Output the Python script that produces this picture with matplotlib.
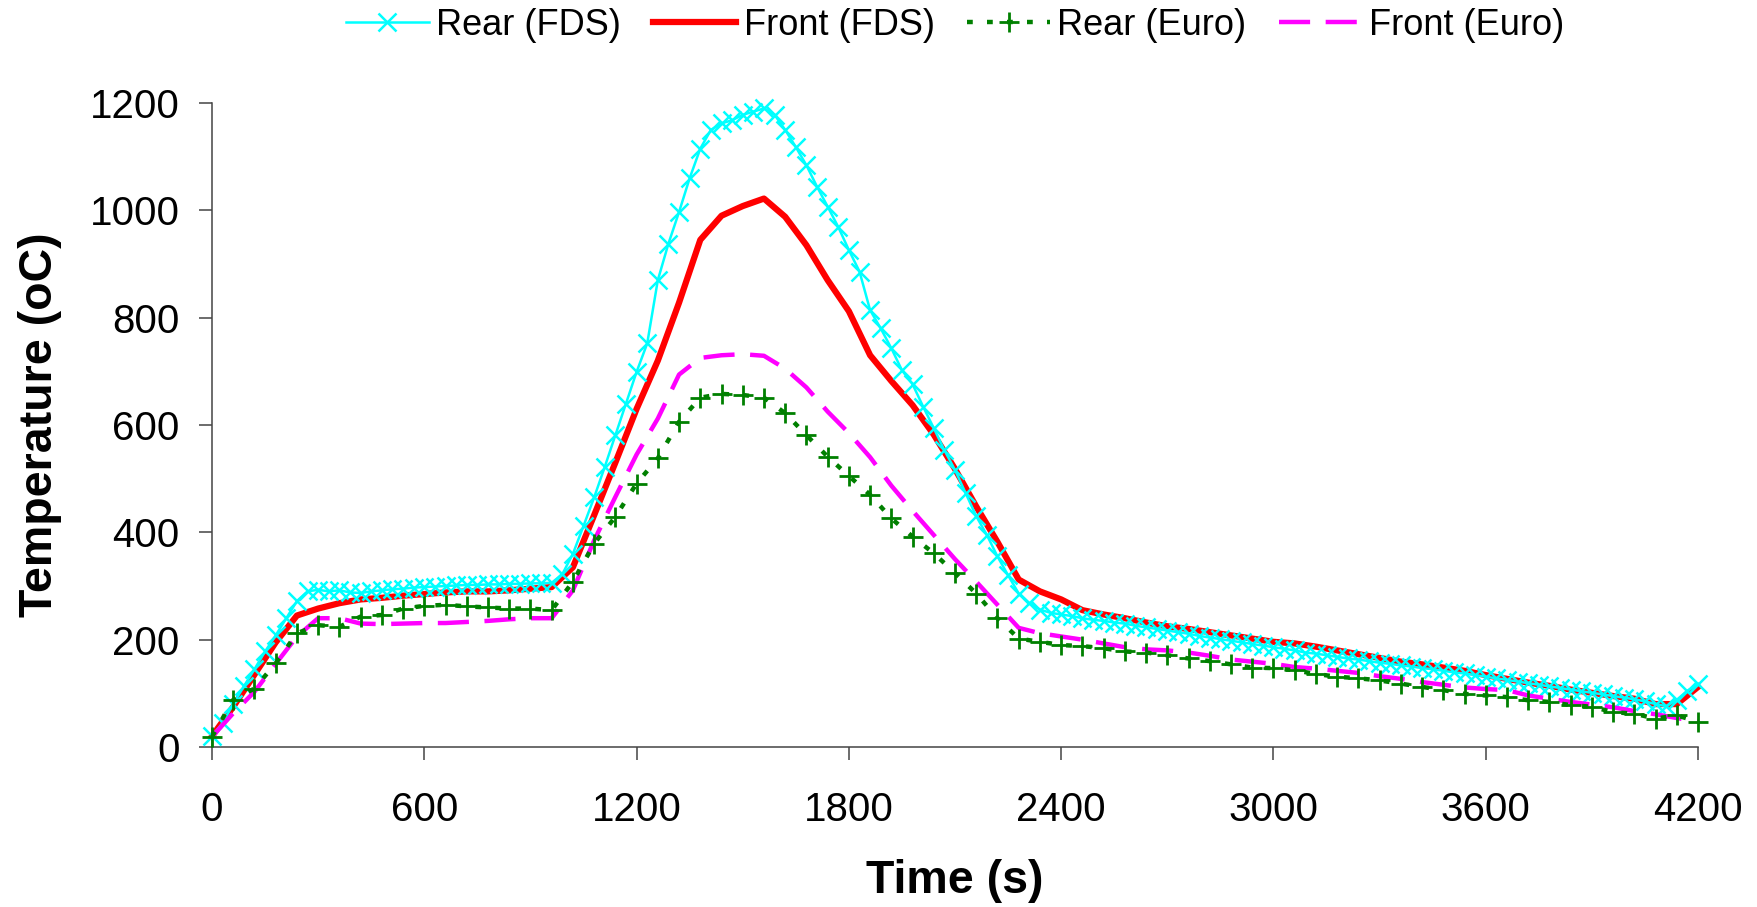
import numpy as np
import matplotlib.pyplot as plt

plt.rcParams['font.family'] = ['Liberation Sans', 'DejaVu Sans']

# Rear (FDS) sampled every 30 s, the other series every 60 s
rear_fds = [
    20, 45, 80, 113, 145, 178, 208, 240, 272, 290, 293,
    290, 292, 288, 287, 290, 292, 294, 295, 297, 298,
    299, 300, 301, 302, 302, 303, 303, 304, 304, 305,
    305, 306, 322, 360, 412, 465, 522, 581, 640, 699,
    752, 870, 938, 997, 1060, 1115, 1150, 1162, 1168, 1178,
    1184, 1190, 1178, 1150, 1118, 1084, 1044, 1007, 969, 926,
    886, 814, 780, 743, 702, 676, 634, 594, 553, 516,
    473, 430, 395, 355, 320, 286, 268, 256, 250, 247,
    244, 240, 237, 235, 232, 230, 226, 223, 220, 217,
    214, 211, 207, 204, 201, 198, 195, 192, 189, 186,
    183, 180, 176, 174, 171, 168, 165, 163, 160, 157,
    155, 152, 150, 147, 145, 142, 139, 137, 134, 131,
    128, 125, 122, 119, 116, 113, 110, 107, 104, 101,
    98, 95, 92, 89, 85, 80, 76, 88, 105, 117,
]
front_fds = [
    20, 75, 135, 195, 245, 258, 268, 275, 278, 282,
    285, 288, 290, 290, 292, 295, 298, 335, 432, 530,
    630, 720, 828, 945, 990, 1008, 1022, 988, 935, 870,
    812, 730, 682, 637, 582, 518, 448, 382, 312, 290,
    275, 255, 247, 240, 232, 225, 220, 214, 208, 202,
    196, 193, 187, 180, 173, 166, 159, 154, 148, 142,
    134, 127, 120, 114, 107, 101, 95, 90, 80, 80,
    112,
]
rear_euro = [
    19, 88, 109, 156, 212, 227, 224, 243, 246, 258,
    263, 265, 262, 260, 258, 258, 255, 308, 379, 429,
    491, 538, 606, 651, 658, 656, 651, 622, 581, 541,
    505, 470, 426, 392, 361, 324, 286, 240, 202, 196,
    190, 188, 184, 178, 176, 171, 165, 160, 154, 148,
    147, 143, 136, 131, 128, 124, 118, 112, 106, 99,
    96, 93, 87, 84, 78, 75, 65, 62, 53, 59,
    47,
]
front_euro = [
    19, 63, 103, 155, 206, 240, 240, 230, 229, 230,
    231, 231, 233, 235, 238, 240, 240, 292, 385, 466,
    545, 612, 694, 725, 730, 732, 729, 705, 670, 625,
    585, 540, 487, 440, 395, 350, 308, 265, 222, 212,
    206, 200, 193, 186, 182, 180, 176, 170, 163, 159,
    155, 149, 146, 142, 138, 132, 127, 121, 116, 111,
    108, 106, 96, 90, 84, 79, 74, 67, 61, 54,
    47,
]
t30 = np.arange(len(rear_fds)) * 30
t60 = np.arange(len(front_fds)) * 60

xticks = [0, 600, 1200, 1800, 2400, 3000, 3600, 4200]
yticks = [0, 200, 400, 600, 800, 1000, 1200]

fig = plt.figure(figsize=(17.58, 9.07), dpi=100)
ax = fig.add_axes([0.1206, 0.1764, 0.8453, 0.71])

l_front, = ax.plot(t60, front_fds, color='#ff0000', lw=4.5, label='Front (FDS)',
                   solid_joinstyle='round', clip_on=False, zorder=2)
l_rear, = ax.plot(t30, rear_fds, color='#00ffff', lw=1.8, marker='x', ms=13, mew=1.8,
                  label='Rear (FDS)', clip_on=False, zorder=3)
l_feuro, = ax.plot(t60, front_euro, color='#ff00ff', lw=3.2, dashes=(7, 3.5),
                   label='Front (Euro)', clip_on=False, zorder=4)
l_reuro, = ax.plot(t60, rear_euro, color='#008000', lw=3.2, dashes=(1.3, 3.2),
                   marker='+', ms=14, mew=2, label='Rear (Euro)', clip_on=False, zorder=5)

ax.set_xlim(0, 4200)
ax.set_ylim(0, 1200)
ax.set_xticks(xticks)
ax.set_yticks(yticks)
ax.tick_params(axis='x', labelsize=29, length=9.5, width=1.1, color='#444444', pad=22)
ax.tick_params(axis='y', labelsize=29, length=9.5, width=1.1, color='#444444', pad=14)
for s in ['top', 'right']:
    ax.spines[s].set_visible(False)
for s in ['left', 'bottom']:
    ax.spines[s].set_color('#444444')
    ax.spines[s].set_linewidth(1.1)

ax.set_xlabel('Time (s)', fontsize=33.5, fontweight='bold', labelpad=22)
ax.set_ylabel('Temperature (oC)', fontsize=33.5, fontweight='bold', labelpad=20)

ax.legend(handles=[l_rear, l_front, l_reuro, l_feuro], loc='center',
          bbox_to_anchor=(0.5, 1.121), ncol=4, frameon=False, fontsize=26,
          handlelength=2.3, handletextpad=0.2, columnspacing=0.9, borderaxespad=0)

fig.savefig('out.png', dpi=100)
